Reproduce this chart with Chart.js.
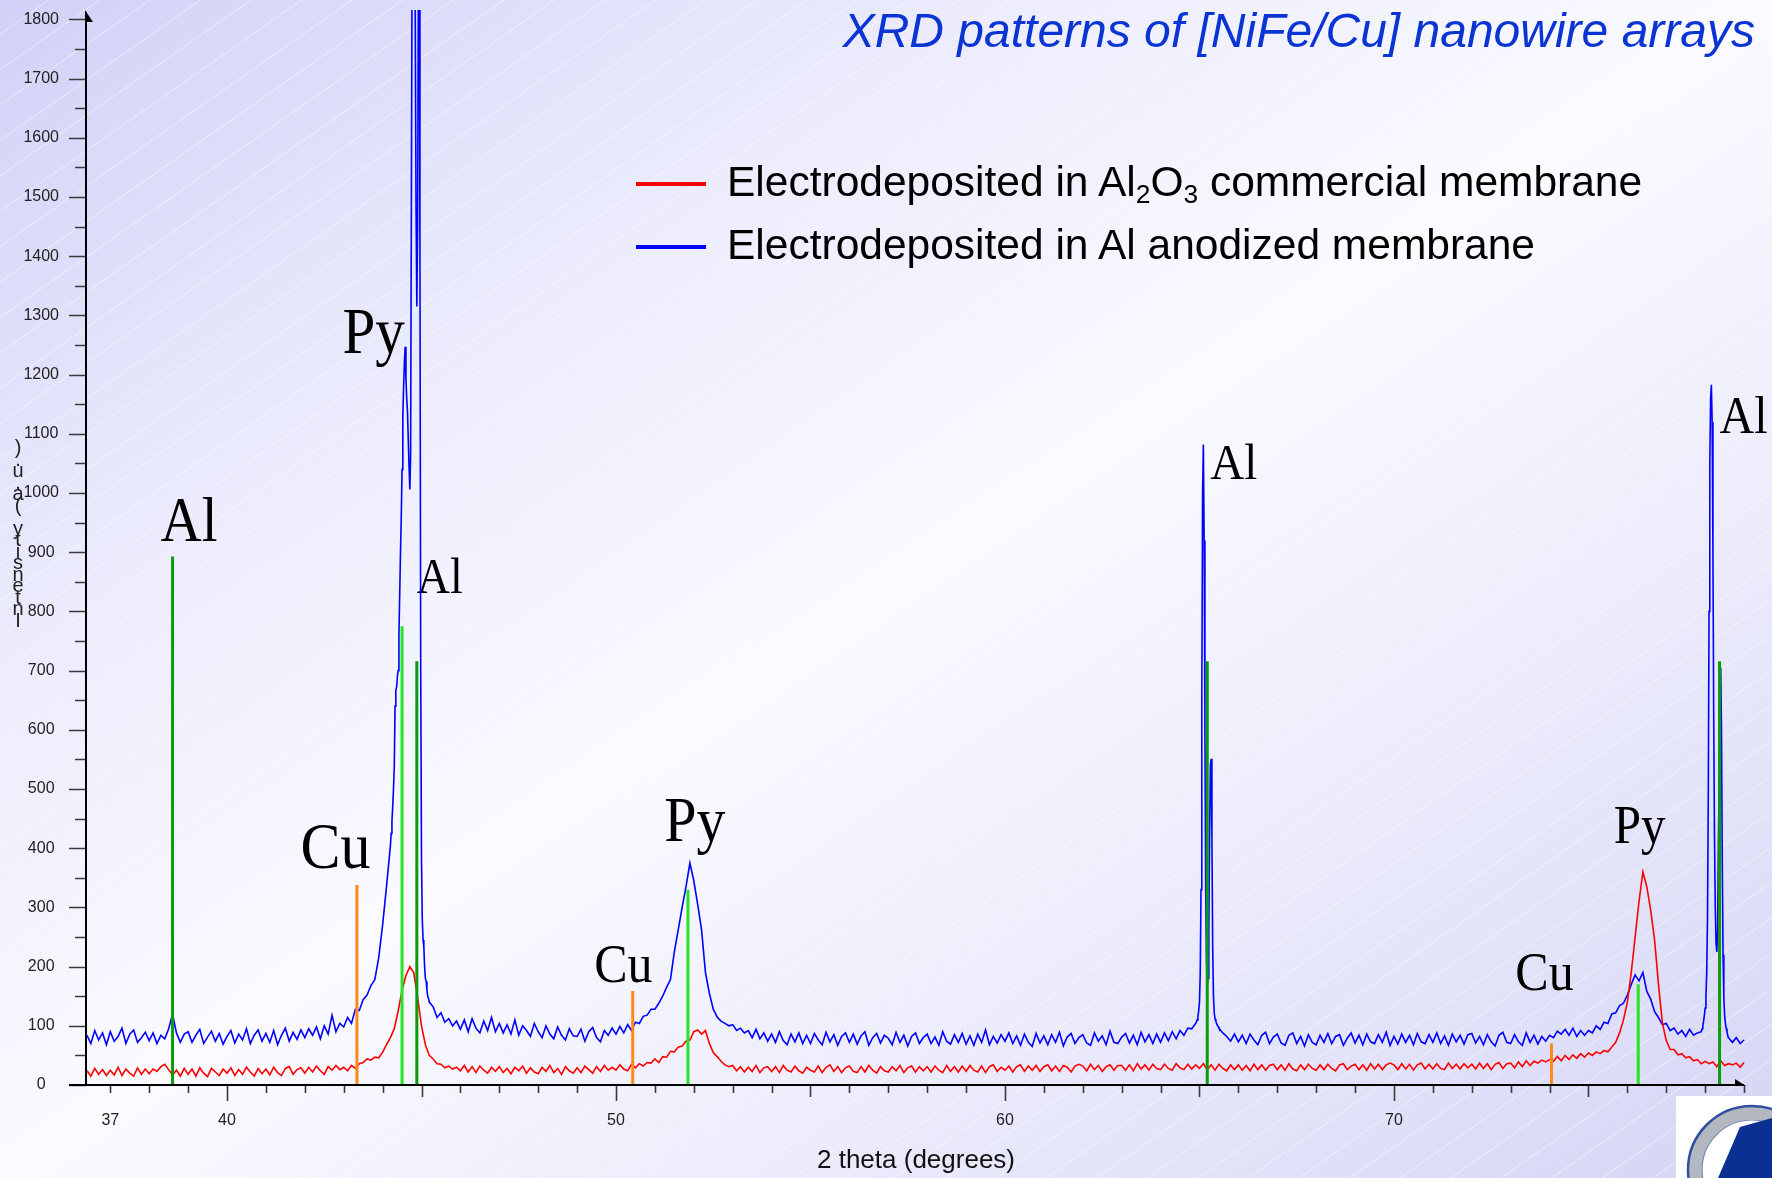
<!DOCTYPE html>
<html>
<head>
<meta charset="utf-8">
<title>XRD patterns of [NiFe/Cu] nanowire arrays</title>
<script src="https://cdn.jsdelivr.net/npm/chart.js@4.4.0/dist/chart.umd.min.js"></script>
<style>
    html, body { margin: 0; padding: 0; }
    body {
        position: relative;
        width: 1772px;
        height: 1178px;
        overflow: hidden;
        font-family: "Liberation Sans", Arial, sans-serif;
        background:
            repeating-linear-gradient(145deg, rgba(255,255,255,0) 0px, rgba(255,255,255,0) 27px, rgba(255,255,255,0.4) 28px, rgba(255,255,255,0) 29px),
            linear-gradient(to bottom right, #d1d1f7 0%, #ececfd 28%, #fafaff 50%, #ededfc 70%, #d5d5f5 100%);
    }
    #xrdChart { position: absolute; left: 0; top: 0; }
    .slide-title {
        position: absolute;
        right: 17px;
        top: 7px;
        font: italic 48px/48px "Liberation Sans", Arial, sans-serif;
        color: #0b34d4;
        white-space: nowrap;
    }
    .legend-row {
        position: absolute;
        left: 636px;
        display: flex;
        align-items: flex-start;
        white-space: nowrap;
    }
    .legend-row .swatch {
        width: 70px;
        height: 4px;
        margin-top: 21px;
        margin-right: 21px;
    }
    .legend-row .name {
        font-size: 42.5px;
        line-height: 42.5px;
        color: #000;
    }
    .legend-row sub {
        font-size: 0.62em;
        vertical-align: -0.28em;
        line-height: 0;
    }
    .y-title {
        position: absolute;
        left: 6px;
        top: 442px;
        width: 24px;
        text-align: center;
        font-size: 20px;
        color: #222;
    }
    .y-title div { height: 11.5px; line-height: 11.5px; white-space: pre; }
    .corner-logo { position: absolute; left: 1676px; top: 1096px; }
</style>
</head>
<body>
<canvas id="xrdChart" width="1772" height="1178" style="width:1772px;height:1178px"></canvas>
<div class="slide-title">XRD patterns of [NiFe/Cu] nanowire arrays</div>
<div id="legend"></div>
<div class="y-title" id="yTitle"></div>
<svg class="corner-logo" width="96" height="82" viewBox="0 0 96 82">
    <rect width="96" height="82" fill="#ffffff"/>
    <circle cx="76" cy="74" r="57" fill="none" stroke="#b3b7c0" stroke-width="13"/>
    <circle cx="76" cy="74" r="64" fill="none" stroke="#2f4f9f" stroke-width="2.5"/>
    <circle cx="76" cy="74" r="50" fill="none" stroke="#6f7fae" stroke-width="1.2"/>
    <polygon points="64,31 96,22 96,82 42,82" fill="#0a3094"/>
</svg>

<script>
// 2θ scan grid of the diffractometer (coarse part)
const scanStart = 36.4;
const scanStep = 0.1;
const fineStep = 0.02;

// Counts, Al2O3 commercial membrane (36.4° … 79.0°, 0.1° step)
const commercialCounts = [
    24, 15, 28, 18, 26, 16,                            // 36.4
    25, 17, 30, 16, 27, 20, 15, 29, 18, 27,            // 37
    19, 27, 23, 31, 35, 26, 17, 25, 15, 28,            // 38
    18, 27, 15, 29, 20, 14, 28, 22, 16, 27,            // 39
    20, 29, 16, 26, 18, 30, 22, 15, 28, 19,            // 40
    27, 17, 30, 21, 16, 28, 31, 18, 26, 29,            // 41
    20, 30, 22, 32, 24, 18, 31, 25, 33, 26,            // 42
    30, 24, 33, 28, 36, 38, 44, 42, 47, 46,            // 43
    55, 68, 80, 95, 125, 160, 185, 200, 190, 148,      // 44
    100, 68, 50, 44, 36, 35, 29, 32, 27, 30,           // 45
    24, 33, 22, 31, 21, 32, 25, 20, 30, 23,            // 46
    31, 21, 28, 19, 30, 24, 32, 20, 29, 22,            // 47
    19, 30, 23, 33, 21, 28, 18, 31, 24, 20,            // 48
    29, 21, 32, 26, 20, 31, 23, 33, 25, 30,            // 49
    25, 34, 27, 24, 35, 29, 36, 32, 38, 37,            // 50
    44, 38, 48, 47, 57, 56, 64, 66, 74, 76,            // 51
    90, 93, 86, 92, 70, 55, 48, 40, 34, 31,            // 52
    33, 24, 31, 22, 30, 23, 33, 21, 29, 31,            // 53
    23, 31, 21, 33, 25, 22, 32, 24, 20, 30,            // 54
    25, 22, 32, 21, 30, 34, 23, 31, 21, 29,            // 55
    32, 23, 21, 31, 22, 33, 25, 20, 31, 24,            // 56
    22, 31, 24, 33, 21, 29, 32, 22, 31, 24,            // 57
    31, 22, 32, 25, 21, 33, 23, 31, 22, 32,            // 58
    23, 33, 25, 22, 32, 21, 31, 34, 23, 30,            // 59
    25, 32, 22, 31, 34, 23, 32, 25, 33, 23,            // 60
    31, 34, 24, 32, 23, 33, 30, 22, 32, 35,            // 61
    32, 24, 35, 26, 33, 23, 31, 34, 25, 33,            // 62
    33, 25, 34, 24, 36, 27, 34, 25, 35, 28,            // 63
    26, 35, 28, 25, 36, 29, 26, 35, 27, 34,            // 64
    28, 36, 26, 34, 25, 35, 28, 24, 34, 26,            // 65
    34, 25, 33, 24, 35, 26, 34, 25, 33, 35,            // 66
    26, 34, 25, 36, 27, 24, 34, 26, 35, 28,            // 67
    25, 34, 26, 35, 28, 24, 34, 36, 26, 32,            // 68
    35, 26, 34, 25, 36, 27, 35, 26, 34, 37,            // 69
    34, 26, 36, 27, 35, 25, 34, 37, 27, 35,            // 70
    27, 36, 28, 26, 37, 28, 35, 27, 36, 29,            // 71
    35, 27, 37, 28, 36, 26, 35, 38, 28, 36,            // 72
    37, 29, 39, 31, 41, 33, 40, 37, 42, 39,            // 73
    43, 40, 48, 41, 50, 43, 51, 45, 53, 47,            // 74
    54, 50, 56, 53, 58, 56, 64, 72, 88, 110,           // 75
    140, 190, 250, 310, 360, 335, 295, 245, 170, 105,  // 76
    75, 60, 60, 51, 53, 46, 48, 41, 43, 36,            // 77
    40, 36, 39, 31, 41, 33, 36, 34, 37, 30,            // 78
    38                                                 // 79
];

// Counts, Al anodized membrane (same grid)
const anodizedCounts = [
    84, 70, 92, 76, 88, 68,                            // 36.4
    90, 74, 82, 96, 70, 86, 93, 72, 80, 89,            // 37
    75, 88, 70, 84, 78, 95, 120, 88, 72, 86,           // 38
    90, 72, 84, 94, 70, 81, 91, 74, 87, 69,            // 39
    82, 92, 71, 86, 76, 95, 70, 84, 93, 74,            // 40
    87, 72, 92, 68, 84, 96, 74, 89, 77, 93,            // 41
    80, 95, 84, 98, 78, 100, 86, 118, 90, 104,         // 42
    98, 114, 104, 128, 126, 144, 152, 168, 178, 215,   // 43
    270, 335, 404, 520, 700, 1040, 1193, 1006, 2200, 1450, // 44
    380, 180, 140, 132, 114, 122, 106, 112, 100, 108,  // 45
    94, 110, 90, 112, 96, 88, 108, 92, 114, 90,        // 46
    104, 88, 102, 86, 110, 84, 100, 92, 82, 104,       // 47
    90, 80, 100, 86, 78, 98, 84, 76, 95, 83,           // 48
    82, 94, 74, 90, 97, 80, 73, 92, 84, 96,            // 49
    86, 99, 88, 102, 92, 106, 104, 116, 118, 128,      // 50
    128, 138, 150, 165, 178, 225, 262, 300, 335, 375,  // 51
    345, 305, 262, 190, 155, 128, 115, 108, 104, 100,  // 52
    102, 92, 96, 88, 92, 80, 94, 78, 88, 74,           // 53
    86, 72, 90, 75, 68, 86, 73, 88, 70, 84,            // 54
    70, 87, 76, 68, 89, 73, 85, 67, 82, 88,            // 55
    72, 86, 69, 83, 90, 67, 80, 87, 71, 84,            // 56
    79, 68, 89, 72, 84, 66, 82, 88, 70, 80,            // 57
    86, 70, 81, 67, 90, 74, 69, 85, 72, 87,            // 58
    69, 83, 67, 86, 72, 93, 68, 82, 71, 85,            // 59
    74, 88, 70, 83, 67, 86, 72, 65, 87, 71,            // 60
    83, 68, 85, 72, 89, 66, 81, 87, 70, 80,            // 61
    85, 71, 67, 88, 74, 83, 68, 91, 72, 70,            // 62
    81, 87, 71, 84, 68, 89, 73, 85, 70, 86,            // 63
    72, 88, 75, 90, 78, 92, 84, 96, 95, 104,           // 64
    140, 1082, 170, 551, 112, 96, 88, 82, 74, 86,      // 65
    73, 84, 70, 86, 76, 68, 84, 89, 70, 81,            // 66
    86, 71, 67, 84, 88, 70, 82, 66, 85, 72,            // 67
    68, 84, 72, 87, 70, 82, 85, 67, 79, 88,            // 68
    71, 84, 68, 86, 73, 70, 85, 72, 89, 67,            // 69
    82, 69, 86, 72, 84, 68, 87, 73, 70, 85,            // 70
    72, 88, 70, 83, 67, 86, 73, 84, 69, 85,            // 71
    87, 71, 82, 68, 85, 73, 66, 84, 89, 72,            // 72
    70, 85, 73, 67, 88, 72, 84, 69, 82, 74,            // 73
    84, 80, 91, 86, 94, 84, 96, 82, 92, 84,            // 74
    92, 88, 100, 94, 106, 104, 120, 122, 134, 138,     // 75
    152, 170, 186, 176, 190, 158, 145, 124, 114, 102,  // 76
    104, 92, 96, 86, 92, 82, 94, 84, 88, 90,           // 77
    130, 1000, 1150, 225, 705, 118, 80, 72, 80, 70,    // 78
    76                                                 // 79
];

// Fine 0.02° scans over the sharp Al reflections (anodized membrane)
const anodizedFine44 = [
    404, 425, 445, 470, 500, 538, 640, 667, 672, 690,          // 44.20
    700, 760, 830, 900, 960, 1040, 1130, 1180, 1220, 1247,     // 44.40
    1193, 1160, 1137, 1090, 1045, 1006, 1062, 1500, 1950, 2150, // 44.60
    2200, 2100, 1800, 1480, 1315, 1450, 1850, 2050, 1400, 700, // 44.80
    380, 280, 245, 234, 200, 180, 175, 160, 150, 146,          // 45.00
    140                                                        // 45.20
];
const anodizedFine65 = [
    104, 106, 110, 116, 125, 140, 190, 330, 650, 1000,   // 64.90
    1082, 920, 600, 330, 210, 170, 180, 260, 420, 540,   // 65.10
    551, 420, 230, 150, 122, 112, 108, 104, 101, 99,     // 65.30
    96                                                   // 65.50
];
const anodizedFine78 = [
    90, 95, 100, 108, 118, 130, 150, 190, 280, 480,      // 77.90
    800, 1050, 1160, 1183, 1120, 900, 620, 420, 300, 240, // 78.10
    225, 260, 400, 520, 680, 705, 600, 380, 220, 150,    // 78.30
    118, 104, 96, 90, 84, 80                             // 78.50
];

// Reference reflections (2θ, relative height)
const alPositions = [38.6, 44.88, 65.2, 78.37];
const alHeights = [893, 716, 716, 716];
const pyPositions = [44.5, 51.85, 76.28];
const pyHeights = [775, 330, 170];
const cuPositions = [43.34, 50.43, 74.05];
const cuHeights = [338, 159, 70];

// Axis ticks
const xTickValues = [37, 40, 50, 60, 70];
const yTickValues = [0, 100, 200, 300, 400, 500, 600, 700, 800, 900,
                     1000, 1100, 1200, 1300, 1400, 1500, 1600, 1700, 1800];

const seriesNames = [
    "Electrodeposited in Al<sub>2</sub>O<sub>3</sub> commercial membrane",
    "Electrodeposited in Al anodized membrane"
];
const seriesColors = ["#ff0000", "#0000ff"];

// Phase marks written next to the reflections (anchor in 2θ / counts)
const phaseLabels = [
    { text: "Al", at: [38.29, 919], size: 57 },
    { text: "Cu", at: [41.89, 367], size: 60 },
    { text: "Py", at: [42.97, 1237], size: 59 },
    { text: "Al", at: [44.88, 831], size: 46 },
    { text: "Cu", at: [49.44, 174], size: 50 },
    { text: "Py", at: [51.24, 413], size: 58 },
    { text: "Al", at: [65.28, 1024], size: 47 },
    { text: "Cu", at: [73.12, 161], size: 50 },
    { text: "Py", at: [75.65, 409], size: 49 },
    { text: "Al", at: [78.37, 1102], size: 48 }
];

// merge the coarse scan with the fine windows
function buildScan(coarse, windows) {
    const ranges = windows.map(w => ({
        start: w.start,
        end: w.start + (w.counts.length - 1) * fineStep,
        counts: w.counts
    }));
    const points = [];
    coarse.forEach((c, i) => {
        const x = +(scanStart + i * scanStep).toFixed(2);
        if (ranges.some(r => x >= r.start - 1e-6 && x <= r.end + 1e-6)) return;
        points.push({ x: x, y: c });
    });
    ranges.forEach(r => {
        r.counts.forEach((c, i) => points.push({ x: +(r.start + i * fineStep).toFixed(2), y: c }));
    });
    return points.sort((a, b) => a.x - b.x);
}

// vertical reference lines, separated by gaps
function stickPoints(positions, heights) {
    const pts = [];
    positions.forEach((p, i) => {
        pts.push({ x: p, y: 0 }, { x: p, y: heights[i] }, { x: p, y: null });
    });
    return pts;
}

const phaseText = {
    id: "phaseText",
    beforeDatasetsDraw(chart) {
        const { ctx, scales: { x, y } } = chart;
        ctx.save();
        ctx.fillStyle = "#000";
        ctx.textAlign = "left";
        ctx.textBaseline = "alphabetic";
        phaseLabels.forEach(l => {
            ctx.save();
            ctx.translate(x.getPixelForValue(l.at[0]), y.getPixelForValue(l.at[1]));
            ctx.scale(1, 1.1);
            ctx.font = l.size + 'px "Liberation Serif", "Times New Roman", serif';
            ctx.fillText(l.text, 0, 0);
            ctx.restore();
        });
        ctx.restore();
    }
};

// axis lines with arrow heads, major / minor tick marks
const axisDecor = {
    id: "axisDecor",
    afterDatasetsDraw(chart) {
        const { ctx, chartArea: a, scales: { x, y } } = chart;
        ctx.save();

        ctx.strokeStyle = "#3a3a3a";
        ctx.lineWidth = 1.6;
        ctx.beginPath();
        for (let v = 0; v <= 1800; v += 50) {
            const py = Math.round(y.getPixelForValue(v)) + 0.5;
            ctx.moveTo(a.left - (v % 100 === 0 ? 17 : 11), py);
            ctx.lineTo(a.left, py);
        }
        for (let v = 37; v <= 79; v++) {
            const px = Math.round(x.getPixelForValue(v)) + 0.5;
            const len = v % 10 === 0 ? 16 : (v % 5 === 0 ? 12 : 8);
            ctx.moveTo(px, a.bottom);
            ctx.lineTo(px, a.bottom + len);
        }
        ctx.stroke();

        ctx.strokeStyle = "#000";
        ctx.fillStyle = "#000";
        ctx.lineWidth = 2;
        ctx.beginPath();
        ctx.moveTo(a.left, a.bottom);
        ctx.lineTo(a.left, a.top + 2);
        ctx.moveTo(a.left - 17, a.bottom);
        ctx.lineTo(a.right - 2, a.bottom);
        ctx.stroke();

        ctx.beginPath();
        ctx.moveTo(a.left - 1, a.top);
        ctx.lineTo(a.left + 7, a.top + 12);
        ctx.lineTo(a.left - 1, a.top + 12);
        ctx.closePath();
        ctx.fill();

        ctx.beginPath();
        ctx.moveTo(a.right, a.bottom + 1);
        ctx.lineTo(a.right - 11, a.bottom - 6);
        ctx.lineTo(a.right - 11, a.bottom + 1);
        ctx.closePath();
        ctx.fill();

        ctx.restore();
    }
};

const tickFont = { family: '"Liberation Sans", Arial, sans-serif', size: 16 };

const ctx = document.getElementById("xrdChart").getContext("2d");
new Chart(ctx, {
    type: "line",
    data: {
        datasets: [
            {
                label: "Al",
                data: stickPoints(alPositions, alHeights),
                borderColor: "#0a9c0a",
                borderWidth: 3,
                borderCapStyle: "butt",
                order: 0
            },
            {
                label: "Py",
                data: stickPoints(pyPositions, pyHeights),
                borderColor: "#22e622",
                borderWidth: 3,
                borderCapStyle: "butt",
                order: 0
            },
            {
                label: "Cu",
                data: stickPoints(cuPositions, cuHeights),
                borderColor: "#ff8a1a",
                borderWidth: 3,
                borderCapStyle: "butt",
                order: 0
            },
            {
                label: "Electrodeposited in Al2O3 commercial membrane",
                data: buildScan(commercialCounts, []),
                borderColor: seriesColors[0],
                borderWidth: 1.6,
                order: 1
            },
            {
                label: "Electrodeposited in Al anodized membrane",
                data: buildScan(anodizedCounts, [
                    { start: 44.2, counts: anodizedFine44 },
                    { start: 64.9, counts: anodizedFine65 },
                    { start: 77.9, counts: anodizedFine78 }
                ]),
                borderColor: seriesColors[1],
                borderWidth: 1.6,
                order: 2
            }
        ]
    },
    options: {
        responsive: false,
        animation: false,
        devicePixelRatio: 1,
        spanGaps: false,
        layout: { padding: { top: 10, right: 26, bottom: 0, left: 0 } },
        elements: {
            point: { radius: 0, hoverRadius: 0 },
            line: { tension: 0, fill: false }
        },
        plugins: {
            legend: { display: false },
            tooltip: { enabled: false }
        },
        scales: {
            x: {
                type: "linear",
                min: 36.375,
                max: 79.05,
                afterFit: scale => {
                    scale.height = 93;
                    scale.paddingLeft = 0;
                    scale.paddingRight = 0;
                },
                afterBuildTicks: scale => { scale.ticks = xTickValues.map(v => ({ value: v })); },
                grid: { display: false, drawTicks: false },
                border: { display: false },
                ticks: {
                    autoSkip: false,
                    maxRotation: 0,
                    padding: 26,
                    color: "#222",
                    font: tickFont,
                    callback: value => String(value)
                },
                title: {
                    display: true,
                    text: "2 theta (degrees)",
                    color: "#111",
                    font: { family: '"Liberation Sans", Arial, sans-serif', size: 26 },
                    padding: { top: 0, bottom: 2 }
                }
            },
            y: {
                type: "linear",
                min: 0,
                max: 1816,
                afterFit: scale => {
                    // labels sit in the left margin; keep the plot area at full height
                    scale.width = 86;
                    scale.paddingTop = 0;
                    scale.paddingBottom = 0;
                },
                afterBuildTicks: scale => { scale.ticks = yTickValues.map(v => ({ value: v })); },
                grid: { display: false, drawTicks: false },
                border: { display: false },
                ticks: {
                    crossAlign: "center",
                    padding: 27,
                    color: "#222",
                    font: tickFont,
                    callback: value => String(value)
                }
            }
        }
    },
    plugins: [phaseText, axisDecor]
});

// legend rows
document.getElementById("legend").innerHTML = seriesNames.map((name, i) => `
    <div class="legend-row" style="top:${161 + i * 63}px">
        <span class="swatch" style="background-color:${seriesColors[i]}"></span>
        <span class="name">${name}</span>
    </div>
`).join("");

// stacked axis caption, read bottom to top
const yCaption = "Intensity (a.u.)";
document.getElementById("yTitle").innerHTML = yCaption.split("").reverse()
    .map(ch => `<div>${ch === " " ? "&nbsp;" : ch}</div>`).join("");
</script>
</body>
</html>
